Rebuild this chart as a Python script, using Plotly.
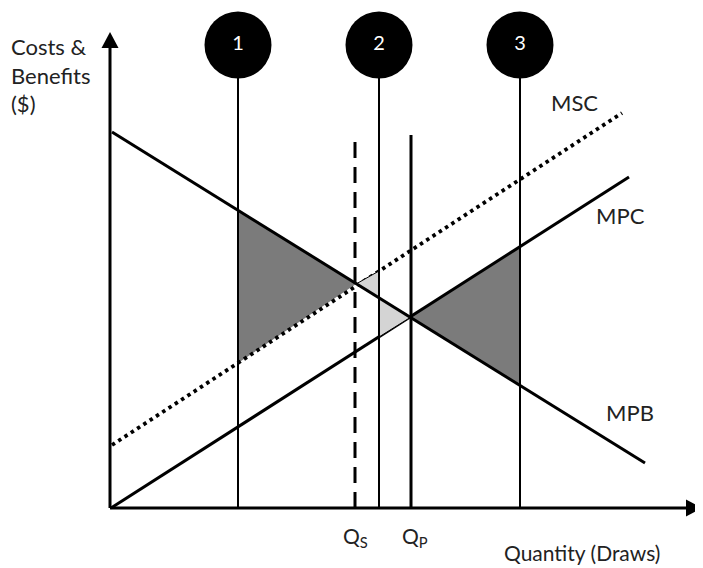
import plotly.graph_objects as go

# ---- data (Q = quantity units, P = $ units) ----
mpb_q = [2, 535]
mpb_p = [376, 45]
mpc_q = [1, 519]
mpc_p = [0, 331]
msc_q = [2, 512]
msc_p = [63, 395]

marker_q = [128, 269, 410]        # vertical lines 1, 2, 3
marker_labels = ["1", "2", "3"]
marker_top = 463

qs = 245
qp = 301
q_top = 373

x_axis_end = 592
y_axis_end = 476

# welfare-loss triangles (vertices)
dwl_left_q = [128, 128, 246]
dwl_left_p = [298, 145, 224]
dwl_right_q = [301, 409, 409]
dwl_right_p = [191, 261, 123]
small1_q = [246, 269, 269]
small1_p = [224, 237, 210]
small2_q = [269, 269, 301]
small2_p = [210, 171, 191]

FONT = "Lato"
TXT = "#222222"

fig = go.Figure()

def poly(q, p, fill, outline=None, ow=0):
    fig.add_trace(go.Scatter(
        x=q + [q[0]], y=p + [p[0]], mode="lines", fill="toself",
        fillcolor=fill,
        line=dict(color=outline if outline else fill, width=ow if outline else 0),
        hoverinfo="skip", showlegend=False))

def seg(q, p, width=3, dash="solid", color="black"):
    fig.add_trace(go.Scatter(
        x=q, y=p, mode="lines", line=dict(color=color, width=width, dash=dash),
        hoverinfo="skip", showlegend=False))

# dark triangles
poly(dwl_left_q, dwl_left_p, "#7b7b7b")
poly(dwl_right_q, dwl_right_p, "#7b7b7b")

# MSC (dotted), MPC
seg(msc_q, msc_p, width=3.8, dash="3.5px,4px")
seg(mpc_q, mpc_p, width=3)

# light triangles
poly(small1_q, small1_p, "#d4d4d4", outline="black", ow=1)
poly(small2_q, small2_p, "#d4d4d4", outline="black", ow=1)

# MPB
seg(mpb_q, mpb_p, width=3)

# vertical lines 1,2,3
for q in marker_q:
    seg([q, q], [0, marker_top], width=2)

# Qs dashed, Qp solid
seg([qs, qs], [0, q_top], width=3, dash="16px,9px")
seg([qp, qp], [0, q_top], width=3)

# axes
seg([0, 0], [0, y_axis_end - 12], width=3)
seg([0, x_axis_end - 12], [0, 0], width=3)

# circles
fig.add_trace(go.Scatter(
    x=marker_q, y=[marker_top] * 3, mode="markers+text",
    marker=dict(size=67, color="black", line=dict(width=0)),
    text=marker_labels, textposition="middle center",
    textfont=dict(family=FONT, size=20, color="white"),
    hoverinfo="skip", showlegend=False))

shapes = [
    dict(type="path", xref="x", yref="y",
         path=f"M 0,{y_axis_end} L -8.5,{y_axis_end - 16} L 8.5,{y_axis_end - 16} Z",
         fillcolor="black", line=dict(width=0)),
    dict(type="path", xref="x", yref="y",
         path=f"M {x_axis_end},0 L {x_axis_end - 16},8.5 L {x_axis_end - 16},-8.5 Z",
         fillcolor="black", line=dict(width=0)),
]

ann = []
def label(text, x, y, xanchor="center", yanchor="middle", size=22, align="center"):
    ann.append(dict(text=text, x=x, y=y, xref="x", yref="y", showarrow=False,
                    xanchor=xanchor, yanchor=yanchor, align=align,
                    font=dict(family=FONT, size=size, color=TXT)))

label("Costs &amp;<br>Benefits<br>($)", -101, 477, xanchor="left", yanchor="top", align="left")
label("MSC", 464, 406)
label("MPC", 510, 293)
label("MPB", 520, 96)
label("Q<sub>S</sub>", qs, -29, size=21)
label("Q<sub>P</sub>", qp + 4, -29, size=21)
label("Quantity (Draws)", 472, -59, yanchor="bottom", size=21)

# page body has an 8px margin: the figure is 695x560 and covers page pixels 8..703 / 8..568
fig.update_layout(
    width=695, height=560, autosize=False,
    margin=dict(l=0, r=0, t=0, b=0),
    paper_bgcolor="white", plot_bgcolor="white",
    xaxis=dict(range=[-102, 593], visible=False, fixedrange=True),
    yaxis=dict(range=[-60, 500], visible=False, fixedrange=True),
    shapes=shapes, annotations=ann,
)

fig.write_html("out.html", config={"displayModeBar": False})
